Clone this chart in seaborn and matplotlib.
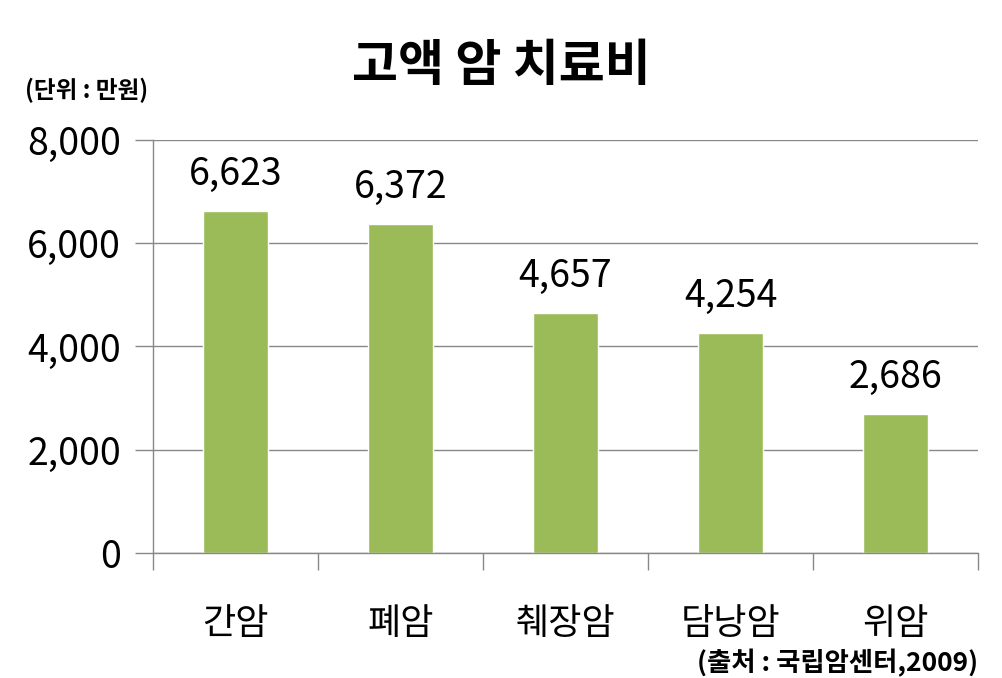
import pandas as pd
import seaborn as sns
import matplotlib.pyplot as plt
from matplotlib.ticker import FuncFormatter

# data
cancers = ["간암", "폐암", "췌장암", "담낭암", "위암"]
costs = [6623, 6372, 4657, 4254, 2686]
y_ticks = [0, 2000, 4000, 6000, 8000]

df = pd.DataFrame({"cancer": cancers, "cost": costs})

sns.set_theme(style="white")
plt.rcParams['font.family'] = ['Noto Sans CJK KR', 'DejaVu Sans']
plt.rcParams['text.color'] = 'black'
plt.rcParams['xtick.color'] = 'black'
plt.rcParams['ytick.color'] = 'black'

fig = plt.figure(figsize=(10.02, 6.78), dpi=100)
ax = fig.add_axes([0.1527, 0.1844, 0.8233, 0.6091])

sns.barplot(x="cancer", y="cost", data=df, color="#9BBB59", saturation=1,
            width=0.39, ax=ax)

ax.set_ylim(0, 8000)
ax.set_xlim(-0.5, 4.5)
ax.set_yticks(y_ticks)
ax.yaxis.set_major_formatter(FuncFormatter(lambda v, p: f"{int(v):,}"))
ax.grid(axis="y", color="#888888", linewidth=1)
ax.set_axisbelow(True)

for s in ["top", "right"]:
    ax.spines[s].set_visible(False)
for s in ["left", "bottom"]:
    ax.spines[s].set_color("#888888")
    ax.spines[s].set_linewidth(1)

ax.tick_params(axis="y", length=13, width=1, color="#888888", direction="out",
               labelsize=27, pad=10, left=True, labelcolor="black")
ax.tick_params(axis="x", which="major", length=0, labelsize=26, pad=38,
               labelcolor="black")
ax.set_xticks([-0.5, 0.5, 1.5, 2.5, 3.5, 4.5], minor=True)
ax.tick_params(axis="x", which="minor", length=12, width=1, color="#888888",
               direction="out", bottom=True)
ax.set_xlabel("")
ax.set_ylabel("")

for i, v in enumerate(costs):
    ax.text(i, v + 330, f"{v:,}", ha="center", va="bottom", fontsize=27,
            color="black")

fig.text(0.5, 0.902, "고액 암 치료비", ha="center", va="center",
         fontsize=36, fontweight="heavy", color="black")
fig.text(0.025, 0.867, "(단위 : 만원)", ha="left", va="center",
         fontsize=17, fontweight="heavy", color="black")
fig.text(0.976, 0.022, "(출처 : 국립암센터,2009)", ha="right", va="center",
         fontsize=19, fontweight="heavy", color="black")

fig.savefig("out.png", dpi=100)
